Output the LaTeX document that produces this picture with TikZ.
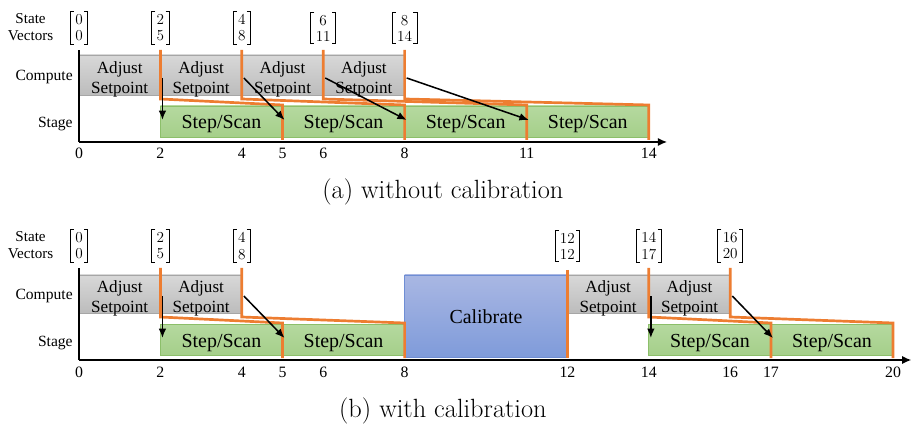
\documentclass[tikz,border=0pt]{standalone}
\usepackage{fontspec}
\usetikzlibrary{arrows.meta}
\newfontfamily\tnr{Liberation Serif}
\definecolor{syncline}{HTML}{ED7D31}
\definecolor{comptop}{HTML}{D8D8D8}
\definecolor{compbottom}{HTML}{BCBCBC}
\definecolor{compedge}{HTML}{A6A6A6}
\definecolor{scantop}{HTML}{B5D99F}
\definecolor{scanbottom}{HTML}{A5CF8A}
\definecolor{scanedge}{HTML}{8CBF6A}
\definecolor{calibtop}{HTML}{A9B7E3}
\definecolor{calibbottom}{HTML}{7F9BDA}
\definecolor{calibedge}{HTML}{6F8ED4}

\begin{document}
\begin{tikzpicture}[x=1.221cm, y=.03cm,
    compute/.style={draw=compedge, line width=.6pt, top color=comptop, bottom color=compbottom},
    scan/.style={draw=scanedge, line width=.6pt, top color=scantop, bottom color=scanbottom},
    calib/.style={draw=calibedge, line width=.6pt, top color=calibtop, bottom color=calibbottom},
    sync/.style={draw=syncline, line width=2.3pt},
    handoff/.style={-{Latex[length=8pt, width=6.5pt]}, line width=1.3pt},
    timeaxis/.style={-{Latex[length=8pt, width=7pt]}, line width=1.3pt},
    statevector/.style={font=\fontsize{13}{13.7}\selectfont, align=center, inner xsep=4pt, inner ysep=2.2pt},
    bracket/.style={line width=.8pt},
    statelabel/.style={font=\tnr\fontsize{12.9}{14.5}\selectfont, align=center, inner sep=0pt},
    boxtext/.style={font=\tnr\fontsize{14.6}{17}\selectfont, align=center, inner sep=0pt},
    scantext/.style={font=\tnr\fontsize{17}{20}\selectfont, anchor=base, inner sep=0pt},
    rowlabel/.style={font=\tnr\fontsize{13.3}{15}\selectfont, anchor=base east, inner sep=0pt},
    ticklabel/.style={font=\tnr\fontsize{13.5}{15}\selectfont, anchor=base, inner sep=0pt},
    caption/.style={font=\fontsize{22.5}{26}\selectfont, anchor=base, inner sep=0pt}]
  \useasboundingbox (-1.941, 0) rectangle (20.49, 424);

  % (a) without calibration
  \begin{scope}[yshift=8.46cm]
    \node[statelabel] (a-state) at (-1.19, 115) {State\\Vectors};
    \node[rowlabel] (a-compute) at (-.15, 61) {Compute};
    \node[rowlabel] (a-stage) at (-.15, 14) {Stage};
    \foreach \t/\s in {0/0, 2/5, 4/8, 6/11, 8/14} {
        \node[statevector] (a-vec\t) at (\t, 114) {\t\\\s};
        \draw[bracket] ([xshift=3pt]a-vec\t.north west) -| (a-vec\t.south west) -- ++(3pt, 0);
        \draw[bracket] ([xshift=-3pt]a-vec\t.north east) -| (a-vec\t.south east) -- ++(-3pt, 0);
      }
    \foreach \t in {0, 2, 4, 6} {
        \draw[compute] (\t, 47) rectangle (\t+2, 87);
        \node[boxtext] (a-adj\t) at (\t+1, 63) {Adjust\\Setpoint};
      }
    \foreach \t/\e in {2/5, 5/8, 8/11, 11/14} {
        \draw[scan] (\t, 5) rectangle (\e, 36);
        \node[scantext] (a-scan\t) at ({(\t+\e)/2}, 13) {Step/Scan};
      }
    \draw[timeaxis] (0, 0) -- (14.45, 0);
    \draw[line width=1pt] (0, 0) -- (0, 92);
    \foreach \t in {0, 2, 4, 5, 6, 8, 11, 14}
      \node[ticklabel] (a-tick\t) at (\t, -17) {\t};
    \foreach \t/\s in {2/5, 4/8, 6/11, 8/14}
      \draw[sync] (\t, 92) -- (\t, 43) -- (\s, 37) -- (\s, 2);
    \foreach \t/\s in {2/2, 4/5, 6/8, 8/11} {
        \coordinate (a-done\t) at (\t+.05, 64);
        \coordinate (a-go\t) at (\s+.05, 22);
        \draw[handoff] (a-done\t) -- (a-go\t);
      }
    \node[caption] (a-cap) at (8.94, -57) {(a) without calibration};
  \end{scope}

  % (b) with calibration
  \begin{scope}[yshift=1.92cm]
    \node[statelabel] (b-state) at (-1.19, 115) {State\\Vectors};
    \node[rowlabel] (b-compute) at (-.15, 61) {Compute};
    \node[rowlabel] (b-stage) at (-.15, 14) {Stage};
    \foreach \t/\s in {0/0, 2/5, 4/8, 12/12, 14/17, 16/20} {
        \node[statevector] (b-vec\t) at (\t, 114) {\t\\\s};
        \draw[bracket] ([xshift=3pt]b-vec\t.north west) -| (b-vec\t.south west) -- ++(3pt, 0);
        \draw[bracket] ([xshift=-3pt]b-vec\t.north east) -| (b-vec\t.south east) -- ++(-3pt, 0);
      }
    \foreach \t in {0, 2, 12, 14} {
        \draw[compute] (\t, 47) rectangle (\t+2, 85);
        \node[boxtext] (b-adj\t) at (\t+1, 62) {Adjust\\Setpoint};
      }
    \foreach \t/\e in {2/5, 5/8, 14/17, 17/20} {
        \draw[scan] (\t, 5) rectangle (\e, 36);
        \node[scantext] (b-scan\t) at ({(\t+\e)/2}, 13) {Step/Scan};
      }
    \draw[calib] (8, 3) rectangle (12, 85);
    \node[scantext] (b-calib) at (10, 37) {Calibrate};
    \draw[timeaxis] (0, 0) -- (20.45, 0);
    \draw[line width=1pt] (0, 0) -- (0, 92);
    \foreach \t in {0, 2, 4, 5, 6, 8, 12, 14, 16, 17, 20}
      \node[ticklabel] (b-tick\t) at (\t, -17) {\t};
    \foreach \t/\s in {2/5, 4/8, 14/17, 16/20}
      \draw[sync] (\t, 92) -- (\t, 43) -- (\s, 37) -- (\s, 2);
    \draw[sync] (12, 90) -- (12, 2);
    \foreach \t/\s in {2/2, 4/5, 14/14, 16/17} {
        \coordinate (b-done\t) at (\t+.05, 64);
        \coordinate (b-go\t) at (\s+.05, 22);
        \draw[handoff] (b-done\t) -- (b-go\t);
      }
    \node[caption] (b-cap) at (8.94, -57) {(b) with calibration};
  \end{scope}
\end{tikzpicture}
\end{document}
